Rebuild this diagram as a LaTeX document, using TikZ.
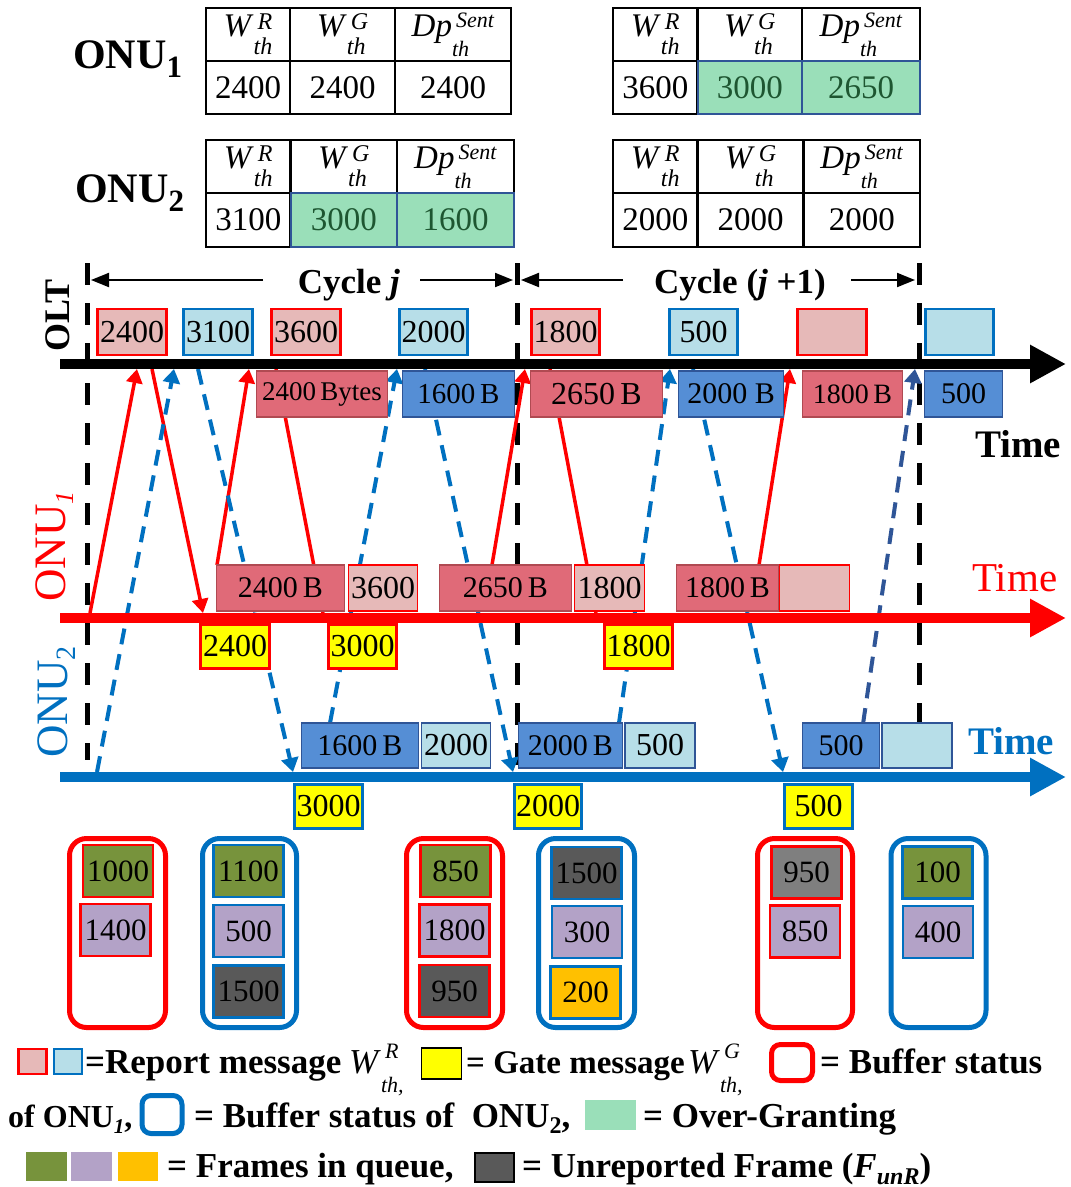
\documentclass[tikz,border=0pt]{standalone}
\usepackage{fontspec}
\setmainfont{Liberation Serif}
\usetikzlibrary{arrows.meta}

\definecolor{rptred}{HTML}{E6B9B8}
\definecolor{rptblue}{HTML}{B7DEE8}
\definecolor{datred}{HTML}{E06A78}
\definecolor{datredline}{HTML}{B04A52}
\definecolor{datblue}{HTML}{558ED5}
\definecolor{datblueline}{HTML}{2F5597}
\definecolor{onured}{HTML}{FF0000}
\definecolor{onublue}{HTML}{0070C0}
\definecolor{gateyel}{HTML}{FFFF00}
\definecolor{overgrant}{HTML}{9ADFB9}
\definecolor{overtext}{HTML}{1E5631}
\definecolor{olivefr}{HTML}{77933C}
\definecolor{lavfr}{HTML}{B3A2C7}
\definecolor{darkfr}{HTML}{595959}
\definecolor{grayfr}{HTML}{7F7F7F}
\definecolor{orangefr}{HTML}{FFC000}
\definecolor{navydash}{HTML}{2F5597}

\newcommand\fsz[1]{\fontsize{#1}{#1}\selectfont}
% base letter with a stacked superscript and subscript
\newcommand\thsym[6]{\textit{#1}{\fsz{#4}%
  \setbox0=\hbox{\raisebox{#5}{\kern4pt\textit{#2}}}%
  \setbox2=\hbox{\raisebox{-#6}{\textit{#3}}}%
  \ifdim\wd0>\wd2 \wd2=0pt \box2\box0 \else \wd0=0pt \box0\box2 \fi}}
\newcommand\symWR{\thsym{W}{R}{th}{24}{7pt}{18pt}}
\newcommand\symWG{\thsym{W}{G}{th}{24}{7pt}{18pt}}
\newcommand\symDp{\thsym{Dp}{Sent}{th}{22}{9pt}{20pt}}

\pgfdeclarelayer{paper}
\pgfdeclarelayer{links}
\pgfdeclarelayer{rails}
\pgfsetlayers{paper,links,rails,main}

\tikzset{
  msgbox/.style={inner sep=0pt, outer sep=0pt, minimum height=46pt, font=\fsz{32}, text=black},
  rptR/.style={msgbox, fill=rptred, draw=onured, line width=2.5pt},
  rptB/.style={msgbox, fill=rptblue, draw=onublue, line width=2.5pt},
  datR/.style={msgbox, fill=datred, draw=datredline, line width=1.3pt, font=\fsz{30}},
  datB/.style={msgbox, fill=datblue, draw=datblueline, line width=1.3pt, font=\fsz{30}},
  repR/.style={msgbox, fill=rptred, draw=onured, line width=1.3pt},
  repB/.style={msgbox, fill=rptblue, draw=datblueline, line width=1.3pt},
  gateR/.style={msgbox, minimum height=44pt, fill=gateyel, draw=onured, line width=2.5pt},
  gateB/.style={msgbox, minimum height=44pt, fill=gateyel, draw=onublue, line width=2.5pt},
  timeaxis/.style={line width=10pt, -{Triangle[length=36pt,width=36pt]}},
  cyclebar/.style={draw=black, line width=5pt, dash pattern=on 22pt off 18pt},
  cycarrow/.style={draw=black, line width=2pt, -{Triangle[length=18pt,width=14pt]}},
  redlink/.style={draw=onured, line width=3.5pt},
  redarrow/.style={redlink, -{Triangle[length=14pt,width=16pt]}},
  bluelink/.style={draw=onublue, line width=4pt, dash pattern=on 16pt off 10pt},
  bluearrow/.style={bluelink, -{Triangle[length=14pt,width=17pt]}},
  navyarrow/.style={bluearrow, draw=navydash},
  cell/.style={draw=black, line width=2.5pt, inner sep=0pt, outer sep=0pt, font=\fsz{33}},
  overcell/.style={cell, fill=overgrant, draw=datblueline, line width=2pt, text=overtext},
  bufR/.style={draw=onured, line width=5pt, rounded corners=17pt, minimum height=189pt, inner sep=0pt},
  bufB/.style={bufR, draw=onublue},
  qframe/.style={inner sep=0pt, line width=2.5pt, minimum width=70pt, minimum height=52pt, font=\fsz{31}},
  frR/.style={qframe, draw=onured},
  frB/.style={qframe, draw=onublue},
  legtext/.style={anchor=base west, inner sep=0pt, font=\fsz{35}\bfseries},
  legkey/.style={inner sep=0pt, outer sep=0pt},
}

\begin{document}
\begin{tikzpicture}[x=1pt,y=-1pt]
\begin{pgfonlayer}{paper}
\path[use as bounding box, fill=white] (0,0) rectangle (1066,1187);
\end{pgfonlayer}

% ---------- threshold tables ----------
\node[anchor=base west, inner sep=0pt, font=\fsz{42}\bfseries] (lab1) at (73,68) {ONU\raisebox{-9pt}{\fsz{31}1}};
\node[anchor=base west, inner sep=0pt, font=\fsz{42}\bfseries] (lab2) at (75,202) {ONU\raisebox{-9pt}{\fsz{31}2}};

% ONU1, cycle j
\node[cell, minimum width=84pt, minimum height=53pt] (ta11) at (248,34.5) {\symWR};
\node[cell, minimum width=105pt, minimum height=53pt] (ta12) at (342.5,34.5) {\symWG};
\node[cell, minimum width=116pt, minimum height=53pt] (ta13) at (453,34.5) {\symDp};
\node[cell, minimum width=84pt, minimum height=53pt] (ta21) at (248,87.5) {2400};
\node[cell, minimum width=105pt, minimum height=53pt] (ta22) at (342.5,87.5) {2400};
\node[cell, minimum width=116pt, minimum height=53pt] (ta23) at (453,87.5) {2400};
% ONU2, cycle j
\node[cell, minimum width=84.6pt, minimum height=53pt] (tb11) at (248.3,166.5) {\symWR};
\node[cell, minimum width=106.4pt, minimum height=53pt] (tb12) at (343.8,166.5) {\symWG};
\node[cell, minimum width=117pt, minimum height=53pt] (tb13) at (455.5,166.5) {\symDp};
\node[cell, minimum width=84.6pt, minimum height=54pt] (tb21) at (248.3,220) {3100};
\node[overcell, minimum width=106.4pt, minimum height=54pt] (tb22) at (343.8,220) {3000};
\node[overcell, minimum width=117pt, minimum height=54pt] (tb23) at (455.5,220) {1600};
% ONU1, cycle j+1
\node[cell, minimum width=84.5pt, minimum height=53pt] (tc11) at (655.25,34.5) {\symWR};
\node[cell, minimum width=104.5pt, minimum height=53pt] (tc12) at (749.75,34.5) {\symWG};
\node[cell, minimum width=118pt, minimum height=53pt] (tc13) at (861,34.5) {\symDp};
\node[cell, minimum width=84.5pt, minimum height=53pt] (tc21) at (655.25,87.5) {3600};
\node[overcell, minimum width=104.5pt, minimum height=53pt] (tc22) at (749.75,87.5) {3000};
\node[overcell, minimum width=118pt, minimum height=53pt] (tc23) at (861,87.5) {2650};
% ONU2, cycle j+1
\node[cell, minimum width=84.5pt, minimum height=53pt] (td11) at (655.25,166.5) {\symWR};
\node[cell, minimum width=106pt, minimum height=53pt] (td12) at (750.5,166.5) {\symWG};
\node[cell, minimum width=116.5pt, minimum height=53pt] (td13) at (861.75,166.5) {\symDp};
\node[cell, minimum width=84.5pt, minimum height=54pt] (td21) at (655.25,220) {2000};
\node[cell, minimum width=106pt, minimum height=54pt] (td22) at (750.5,220) {2000};
\node[cell, minimum width=116.5pt, minimum height=54pt] (td23) at (861.75,220) {2000};

% ---------- side labels ----------
\node[rotate=90, anchor=base west, inner sep=0pt, font=\fsz{36}\bfseries] (oltlab) at (69,352) {OLT};
\node[rotate=90, anchor=base west, inner sep=0pt, font=\fsz{45}, text=onured] (onu1lab) at (65,602) {ONU\raisebox{-8pt}{\fsz{26}\itshape 1}};
\node[rotate=90, anchor=base west, inner sep=0pt, font=\fsz{45}, text=onublue] (onu2lab) at (67,758) {ONU\raisebox{-8pt}{\fsz{28}2}};

\node[anchor=base west, inner sep=0pt, font=\fsz{39}\bfseries] (tolt) at (975,457) {Time};
\node[anchor=base west, inner sep=0pt, font=\fsz{41}, text=onured] (tonu1) at (972,591) {Time};
\node[anchor=base west, inner sep=0pt, font=\fsz{39}\bfseries, text=onublue] (tonu2) at (968,754) {Time};

% ---------- cycle markers ----------
\node[anchor=base, inner sep=0pt, font=\fsz{35}\bfseries] (cyj) at (349,293) {Cycle \textit{j}};
\node[anchor=base, inner sep=0pt, font=\fsz{35}\bfseries] (cyk) at (740,293) {Cycle (\textit{j} +1)};

\coordinate (v1a) at (87,263);  \coordinate (v1b) at (87,760);
\coordinate (v2a) at (517,263); \coordinate (v2b) at (517,772);
\coordinate (v3a) at (919,263); \coordinate (v3b) at (919,722);
\coordinate (cjl) at (263,280); \coordinate (cjlt) at (91,280);
\coordinate (cjr) at (420,280); \coordinate (cjrt) at (513,280);
\coordinate (ckl) at (623,280); \coordinate (cklt) at (521,280);
\coordinate (ckr) at (851,280); \coordinate (ckrt) at (915,280);
\draw[cycarrow] (cjl) -- (cjlt);
\draw[cycarrow] (cjr) -- (cjrt);
\draw[cycarrow] (ckl) -- (cklt);
\draw[cycarrow] (ckr) -- (ckrt);

% ---------- OLT: reports received (above) and data received (below) ----------
\node[rptR, minimum width=69pt] (olt1) at (132,332) {2400};
\node[rptB, minimum width=69pt] (olt2) at (218,332) {3100};
\node[rptR, minimum width=69pt] (olt3) at (306,332) {3600};
\node[rptB, minimum width=68pt] (olt4) at (433.5,332) {2000};
\node[rptR, minimum width=68pt] (olt5) at (565.5,332) {1800};
\node[rptB, minimum width=68pt] (olt6) at (703.5,332) {500};
\node[rptR, minimum width=69pt] (olt7) at (832,332) {};
\node[rptB, minimum width=68pt] (olt8) at (959.5,332) {};

\node[datR, minimum width=131pt, font=\fsz{27}] (od1) at (322,394) {2400\,Bytes};
\node[datB, minimum width=112pt, font=\fsz{29}] (od2) at (458.5,394) {1600\,B};
\node[datR, minimum width=132pt, font=\fsz{32}] (od3) at (596.5,394) {2650\,B};
\node[datB, minimum width=105pt] (od4) at (731,394) {2000 B};
\node[datR, minimum width=100pt, font=\fsz{28}] (od5) at (852.5,394) {1800\,B};
\node[datB, minimum width=78pt] (od6) at (963.5,394) {500};

% ---------- ONU1: data and reports sent (above), gates received (below) ----------
\node[datR, minimum width=128pt] (u1d1) at (280.5,588) {2400\,B};
\node[repR, minimum width=69pt] (u1d2) at (383,588) {3600};
\node[datR, minimum width=132pt] (u1d3) at (505.5,588) {2650\,B};
\node[repR, minimum width=70pt] (u1d4) at (609.5,588) {1800};
\node[datR, minimum width=102pt] (u1d5) at (727.5,588) {1800\,B};
\node[repR, minimum width=70pt] (u1d6) at (814.5,588) {};

\node[gateR, minimum width=69pt] (u1g1) at (235,646.5) {2400};
\node[gateR, minimum width=68pt] (u1g2) at (362.5,646.5) {3000};
\node[gateR, minimum width=68pt] (u1g3) at (638.5,646.5) {1800};

% ---------- ONU2: data and reports sent (above), gates received (below) ----------
\node[datB, minimum width=117pt, minimum height=45pt] (u2d1) at (360,745.5) {1600\,B};
\node[repB, minimum width=69pt, minimum height=45pt] (u2d2) at (456,745.5) {2000};
\node[datB, minimum width=104pt, minimum height=45pt] (u2d3) at (570.5,745.5) {2000\,B};
\node[repB, minimum width=70pt, minimum height=45pt] (u2d4) at (660,745.5) {500};
\node[datB, minimum width=77pt, minimum height=45pt] (u2d5) at (841,745.5) {500};
\node[repB, minimum width=70pt, minimum height=45pt] (u2d6) at (917,745.5) {};

\node[gateB, minimum width=68pt] (u2g1) at (328.5,806.5) {3000};
\node[gateB, minimum width=67pt] (u2g2) at (548,806.5) {2000};
\node[gateB, minimum width=68pt] (u2g3) at (818.5,806.5) {500};

% ---------- time axes ----------
\coordinate (oltS) at (60,364); \coordinate (oltE) at (1066,364);
\coordinate (u1S) at (60,618);  \coordinate (u1E) at (1066,618);
\coordinate (u2S) at (60,777);  \coordinate (u2E) at (1066,777);
\begin{pgfonlayer}{rails}
\draw[timeaxis, draw=black] (oltS) -- (oltE);
\draw[timeaxis, draw=onured] (u1S) -- (u1E);
\draw[timeaxis, draw=onublue] (u2S) -- (u2E);
\end{pgfonlayer}

% ---------- message transfers ----------
\coordinate (r1a) at (90,613);  \coordinate (r1b) at (137,369);
\coordinate (r2a) at (152,369); \coordinate (r2b) at (203,613);
\coordinate (r3a) at (217,565); \coordinate (r3b) at (249,369);
\coordinate (r4a) at (276,369); \coordinate (r4b) at (323,613);
\coordinate (r5a) at (492,565); \coordinate (r5b) at (525,369);
\coordinate (r6a) at (550,369); \coordinate (r6b) at (596,613);
\coordinate (r7a) at (759,565); \coordinate (r7b) at (790,369);
\coordinate (b1a) at (97,772);  \coordinate (b1b) at (174,369);
\coordinate (b2a) at (198,369); \coordinate (b2b) at (293,772);
\coordinate (b3a) at (330,723); \coordinate (b3b) at (397,369);
\coordinate (b4a) at (425,369); \coordinate (b4b) at (513,772);
\coordinate (b5a) at (619,723); \coordinate (b5b) at (670,369);
\coordinate (b6a) at (693,369); \coordinate (b6b) at (783,772);
\coordinate (b7a) at (863,724); \coordinate (b7b) at (915,369);
\begin{pgfonlayer}{links}
\draw[cyclebar] (v1a) -- (v1b);
\draw[cyclebar] (v2a) -- (v2b);
\draw[cyclebar] (v3a) -- (v3b);
\draw[redarrow] (r1a) -- (r1b);
\draw[redarrow] (r2a) -- (r2b);
\draw[redarrow] (r3a) -- (r3b);
\draw[redlink]  (r4a) -- (r4b);
\draw[redarrow] (r5a) -- (r5b);
\draw[redlink]  (r6a) -- (r6b);
\draw[redarrow] (r7a) -- (r7b);
\draw[bluearrow] (b1a) -- (b1b);
\draw[bluearrow] (b2a) -- (b2b);
\draw[bluearrow] (b3a) -- (b3b);
\draw[bluearrow] (b4a) -- (b4b);
\draw[bluearrow] (b5a) -- (b5b);
\draw[bluearrow] (b6a) -- (b6b);
\draw[navyarrow] (b7a) -- (b7b);
\end{pgfonlayer}

% ---------- buffer states ----------
\node[bufR, minimum width=96pt] (bs1) at (117.5,933) {};
\node[frR, fill=olivefr] (q11) at (118,871) {1000};
\node[frR, fill=lavfr] (q12) at (115.5,930) {1400};

\node[bufB, minimum width=94pt] (bs2) at (249.5,933) {};
\node[frB, fill=olivefr] (q21) at (248.5,871) {1100};
\node[frB, fill=lavfr] (q22) at (248.5,931) {500};
\node[frB, fill=darkfr] (q23) at (248.5,991.5) {1500};

\node[bufR, minimum width=96pt] (bs3) at (454.5,933) {};
\node[frR, fill=olivefr] (q31) at (455.5,871) {850};
\node[frR, fill=lavfr] (q32) at (454.5,930.5) {1800};
\node[frR, fill=darkfr] (q33) at (454.5,991) {950};

\node[bufB, minimum width=96pt] (bs4) at (586.5,933) {};
\node[frB, fill=darkfr] (q41) at (586.5,873) {1500};
\node[frB, fill=lavfr] (q42) at (587,932) {300};
\node[frB, fill=orangefr] (q43) at (585.5,992.5) {200};

\node[bufR, minimum width=95pt] (bs5) at (805,933) {};
\node[frR, fill=grayfr] (q51) at (806.5,872.5) {950};
\node[frR, fill=lavfr] (q52) at (805,931.5) {850};

\node[bufB, minimum width=95pt] (bs6) at (938.5,933) {};
\node[frB, fill=olivefr] (q61) at (937.7,872.5) {100};
\node[frB, fill=lavfr] (q62) at (938,932) {400};

% ---------- legend ----------
\node[legkey, fill=rptred, draw=onured, line width=2.5pt, minimum width=28pt, minimum height=25pt] (lk1) at (32.5,1061.5) {};
\node[legkey, fill=rptblue, draw=onublue, line width=2.5pt, minimum width=28pt, minimum height=25pt] (lk2) at (68,1061.5) {};
\node[legtext] (lt1) at (85,1073) {=Report message};
\node[legtext] (lw1) at (349,1073) {\mdseries\thsym{W}{R}{th,}{22}{15pt}{19pt}};
\node[legkey, fill=gateyel, draw=black, line width=1.5pt, minimum width=40pt, minimum height=31pt] (lk3) at (441.5,1063.5) {};
\node[legtext, font=\fsz{33}\bfseries] (lt2) at (466,1073) {= Gate message};
\node[legtext] (lw2) at (688,1073) {\mdseries\thsym{W}{G}{th,}{22}{15pt}{19pt}};
\node[legkey, draw=onured, line width=5pt, rounded corners=9pt, minimum width=41pt, minimum height=36pt] (lk4) at (792,1062.5) {};
\node[legtext] (lt3) at (820,1073) {= Buffer status};

\node[legtext, font=\fsz{32}\bfseries] (lt4) at (8,1127) {of ONU\raisebox{-6pt}{\fsz{21}\itshape 1},};
\node[legkey, draw=onublue, line width=5pt, rounded corners=9pt, minimum width=40pt, minimum height=38pt] (lk5) at (162,1114.5) {};
\node[legtext] (lt5) at (194,1127) {= Buffer status of\ \ ONU\raisebox{-6pt}{\fsz{24}2},};
\node[legkey, fill=overgrant, minimum width=51pt, minimum height=30pt] (lk6) at (610.5,1115) {};
\node[legtext] (lt6) at (643,1127) {= Over-Granting};

\node[legkey, fill=olivefr, minimum width=41pt, minimum height=29pt] (lk7) at (46.5,1166.5) {};
\node[legkey, fill=lavfr, minimum width=41pt, minimum height=29pt] (lk8) at (91.5,1166.5) {};
\node[legkey, fill=orangefr, minimum width=40pt, minimum height=29pt] (lk9) at (138,1166.5) {};
\node[legtext] (lt7) at (167,1177) {= Frames in queue,};
\node[legkey, fill=darkfr, draw=black, line width=1.5pt, minimum width=39pt, minimum height=29pt] (lk10) at (494.5,1167.5) {};
\node[legtext] (lt8) at (522,1177) {= Unreported Frame ({\itshape F}\raisebox{-7pt}{\fsz{24}\itshape unR})};
\end{tikzpicture}
\end{document}
